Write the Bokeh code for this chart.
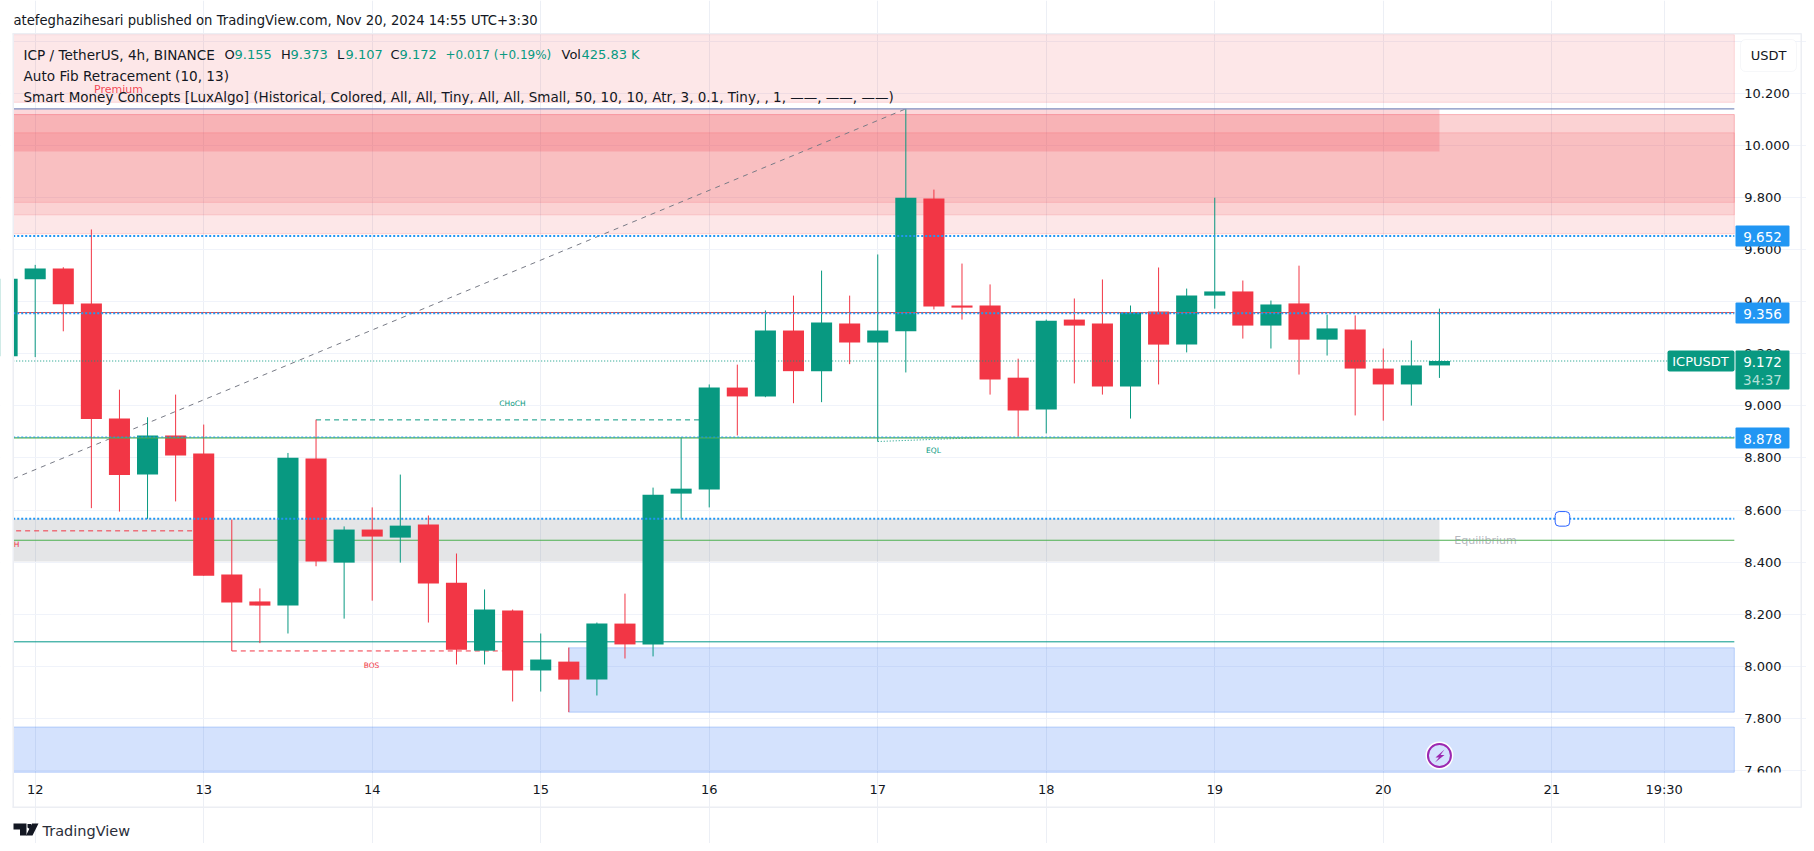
from bokeh.plotting import figure
from bokeh.embed import file_html
from bokeh.resources import INLINE
from bokeh.models import (ColumnDataSource, Range1d, LinearAxis, FixedTicker, Label, BoxAnnotation,
                          PolyAnnotation, NumeralTickFormatter)

# ---------- data ----------
candle_x = list(range(-1, 51))
opens = [9.190, 9.486, 9.527, 9.393, 8.951, 8.736, 8.886, 8.817, 8.352, 8.249, 8.233, 8.798, 8.398, 8.525, 8.494,
         8.544, 8.321, 8.060, 8.214, 7.984, 8.018, 7.949, 8.164, 8.084, 8.663, 8.679, 9.070, 9.036, 9.289, 9.133,
         9.316, 9.243, 9.286, 9.796, 9.385, 9.385, 9.108, 8.986, 9.331, 9.316, 9.074, 9.362, 9.235, 9.423, 9.439,
         9.308, 9.393, 9.254, 9.293, 9.143, 9.082, 9.155]
highs = [9.488, 9.541, 9.532, 9.677, 9.062, 8.956, 9.043, 8.928, 8.563, 8.299, 8.819, 8.947, 8.537, 8.610, 8.736,
         8.579, 8.433, 8.295, 8.218, 8.126, 8.072, 8.168, 8.279, 8.686, 8.878, 9.082, 9.158, 9.366, 9.423, 9.519,
         9.423, 9.581, 10.140, 9.830, 9.546, 9.466, 9.181, 9.331, 9.412, 9.485, 9.385, 9.531, 9.450, 9.799, 9.481,
         9.404, 9.538, 9.350, 9.347, 9.220, 9.251, 9.373]
lows = [9.190, 9.187, 9.286, 8.607, 8.594, 8.566, 8.633, 8.348, 8.059, 8.089, 8.126, 8.384, 8.183, 8.252, 8.398,
        8.168, 8.007, 8.007, 7.865, 7.903, 7.824, 7.888, 8.030, 8.038, 8.567, 8.610, 8.886, 9.033, 9.010, 9.014,
        9.160, 8.863, 9.128, 9.370, 9.331, 9.043, 8.882, 8.894, 9.086, 9.043, 8.951, 9.082, 9.205, 9.373, 9.258,
        9.220, 9.120, 9.193, 8.963, 8.943, 9.001, 9.107]
closes = [9.488, 9.527, 9.390, 8.949, 8.734, 8.886, 8.809, 8.348, 8.245, 8.233, 8.801, 8.402, 8.525, 8.498, 8.540,
          8.318, 8.064, 8.218, 7.984, 8.026, 7.949, 8.164, 8.084, 8.659, 8.682, 9.070, 9.036, 9.289, 9.133, 9.320,
          9.243, 9.289, 9.799, 9.381, 9.377, 9.101, 8.982, 9.327, 9.308, 9.074, 9.359, 9.235, 9.423, 9.439, 9.308,
          9.389, 9.254, 9.297, 9.143, 9.082, 9.155, 9.172]

price_ticks = [7.6, 7.8, 8.0, 8.2, 8.4, 8.6, 8.8, 9.0, 9.2, 9.4, 9.6, 9.8, 10.0, 10.2]
grid_prices = price_ticks + [10.4]
time_ticks = [0, 6, 12, 18, 24, 30, 36, 42, 48, 54, 58]
time_labels = ["12", "13", "14", "15", "16", "17", "18", "19", "20", "21", "19:30"]

supply_bottoms = [10.165, 9.660, 9.733, 9.781]
supply_tops = [10.425, 10.118, 10.118, 10.048]
premium_zone = [9.976, 10.140]
equilibrium_zone = [8.402, 8.566]
zone_end = 50
demand_bottoms = [7.824, 7.5935]
demand_tops = [8.071, 7.767]
demand_starts = [19, -0.783]

level_high = 10.140
level_green = 8.877
level_red = 9.358
level_mid = 8.484
level_teal = 8.094
dotted_levels = [9.652, 9.355, 8.880, 8.566]
last_price = 9.172

fib_x = [-0.783, 31]
fib_y = [8.72, 10.14]
choch_x, choch_y = [10, 24], [8.946, 8.946]
bos_x, bos_y = [7, 17], [8.059, 8.059]
eqh_x, eqh_y = [-1, 6], [8.520, 8.520]
eql_x, eql_y = [30, 33.7], [8.863, 8.878]

GREEN, RED, BLUE = "#089981", "#f23645", "#2196f3"
FONT = "DejaVu Sans"
INK = "#131722"

# ---------- geometry: the frame fills the figure, the pane is a part of it ----------
W, H = 1806, 843
PX0, PX1, PY0, PY1 = -0.783, 60.5, 7.5935, 10.425

p = figure(width=W, height=H, output_backend="svg", toolbar_location=None,
           x_range=Range1d(-1.2355, 63.07), y_range=Range1d(7.3198, 10.5559),
           x_axis_location=None, y_axis_location=None,
           min_border_left=0, min_border_right=0, min_border_top=0, min_border_bottom=0,
           background_fill_color="white", border_fill_color="white", outline_line_color=None)

yaxis = LinearAxis(ticker=FixedTicker(ticks=price_ticks), formatter=NumeralTickFormatter(format="0.000"),
                   fixed_location=PX1, axis_line_color=None, major_tick_line_color=None,
                   minor_tick_line_color=None, major_label_text_font=FONT, major_label_text_font_size="13px",
                   major_label_text_color=INK, major_label_standoff=4)
xaxis = LinearAxis(ticker=FixedTicker(ticks=time_ticks), major_label_overrides=dict(zip(time_ticks, time_labels)),
                   fixed_location=PY0, axis_line_color=None, major_tick_line_color=None,
                   minor_tick_line_color=None, major_label_text_font=FONT, major_label_text_font_size="13px",
                   major_label_text_color=INK, major_label_standoff=4)
p.add_layout(yaxis, "right")
p.add_layout(xaxis, "below")
p.xgrid.ticker = FixedTicker(ticks=time_ticks)
p.ygrid.ticker = FixedTicker(ticks=grid_prices)
p.xgrid.bounds = (PY0, PY1)
p.ygrid.bounds = (PX0, PX1)
p.xgrid.grid_line_color = "#eceff5"
p.ygrid.grid_line_color = "#f0f3fa"

# zones
p.quad(left=PX0, right=PX1, bottom=supply_bottoms, top=supply_tops, fill_color=RED, fill_alpha=0.12,
       line_color=RED, line_alpha=0.16)
p.quad(left=[PX0], right=[zone_end], bottom=[premium_zone[0]], top=[premium_zone[1]], fill_color=RED,
       fill_alpha=0.2, line_color=None)
p.quad(left=[PX0], right=[zone_end], bottom=[equilibrium_zone[0]], top=[equilibrium_zone[1]],
       fill_color="#787b86", fill_alpha=0.2, line_color=None)
p.quad(left=demand_starts, right=PX1, bottom=demand_bottoms, top=demand_tops, fill_color="#1d66f4",
       fill_alpha=0.19, line_color="#1d66f4", line_alpha=0.25)

# structure lines behind the candles
p.segment(x0=PX0, x1=PX1, y0=level_mid, y1=level_mid, line_color="#4caf50", line_width=1.2)
p.segment(x0=PX0, x1=PX1, y0=level_teal, y1=level_teal, line_color="#009688", line_width=1)
p.line(fib_x, fib_y, line_color="#787b86", line_width=1, line_dash="5 5")
p.line(choch_x, choch_y, line_color=GREEN, line_width=1, line_dash="5 4")
p.line(bos_x, bos_y, line_color=RED, line_width=1, line_dash="5 4")
p.line(eqh_x, eqh_y, line_color=RED, line_width=1, line_dash="5 4")
p.line(eql_x, eql_y, line_color=GREEN, line_width=1, line_dash="1 2")

# candles
colors = [GREEN if c >= o else RED for o, c in zip(opens, closes)]
src = ColumnDataSource(dict(x=candle_x, o=opens, h=highs, l=lows, c=closes, color=colors,
                            top=[max(a, b) for a, b in zip(opens, closes)],
                            bot=[min(a, b) for a, b in zip(opens, closes)]))
p.segment(x0="x", x1="x", y0="l", y1="h", line_color="color", line_width=1, source=src)
p.vbar(x="x", width=0.75, top="top", bottom="bot", fill_color="color", line_color="color", line_width=0, source=src)

# levels above the candles
p.segment(x0=-0.65, x1=PX1, y0=level_red, y1=level_red, line_color="#f44336", line_width=1)
p.segment(x0=PX0, x1=PX1, y0=level_green, y1=level_green, line_color="#4caf50", line_width=1.2)
for lv in dotted_levels:
    p.segment(x0=PX0, x1=PX1, y0=lv, y1=lv, line_color=BLUE, line_width=2 if lv != dotted_levels[2] else 1,
              line_dash="2 2")
p.segment(x0=PX0, x1=PX1, y0=level_high, y1=level_high, line_color="#7f8fc0", line_width=1.2)
p.segment(x0=PX0, x1=PX1, y0=last_price, y1=last_price, line_color=GREEN, line_width=1, line_dash="1 2")

# drawing handle and event marker
p.quad(left=[54.12], right=[54.64], bottom=[8.538], top=[8.594], fill_color="white", line_color="#2962ff",
       line_width=1, border_radius=4)
p.scatter([50], [7.6576], marker="circle", size=28, fill_color="white", line_color=None)
p.scatter([50], [7.6576], marker="circle", size=23, fill_color="#d4e1fe", line_color="#9c27b0", line_width=2)


def sx(px):
    return px


def sy(py):
    return H - py


def text(txt, px, py, color=INK, size="14px", align="left", baseline="middle", style="normal", font=FONT, alpha=1):
    p.add_layout(Label(x=sx(px), y=sy(py), x_units="screen", y_units="screen", text=txt, text_color=color,
                       text_font=font, text_font_size=size, text_align=align, text_baseline=baseline,
                       text_font_style=style, text_alpha=alpha))


def box(x0, x1, y0, y1, color, line=None, radius=0):
    p.add_layout(BoxAnnotation(left=sx(x0), right=sx(x1), top=sy(y0), bottom=sy(y1), left_units="screen",
                               right_units="screen", top_units="screen", bottom_units="screen", fill_color=color,
                               fill_alpha=1, line_color=line, line_width=1, border_radius=radius, editable=False))


def poly(points, color):
    p.add_layout(PolyAnnotation(xs=[sx(a) for a, _ in points], ys=[sy(b) for _, b in points], xs_units="screen",
                                ys_units="screen", fill_color=color, fill_alpha=1, line_color=None))


# masks: left of the pane, the cut 7.600 label below it; then the outer border
box(0, 12.5, 30, 810, "white")
box(1735, 1800, 772, 806, "white")
for a in [(12, 13.5, 33, 807), (12, 1801, 32.5, 34), (1800, 1801.5, 33, 807), (12, 1801, 806, 807.5)]:
    box(a[0], a[1], a[2], a[3], "#eceef3")

# chart texts
text("Premium", 118, 89, RED, "11px", "center", alpha=0.9)
text("Equilibrium", 1485, 540, "#9598a1", "11px", "center", alpha=0.7)
text("CHoCH", 512, 403, GREEN, "7.5px", "center")
text("BOS", 371, 665, RED, "7.5px", "center")
text("EQL", 933, 450, GREEN, "7.5px", "center")
text("H", 16, 544, RED, "7.5px", "center")

# header and legend
text("atefeghazihesari published on TradingView.com, Nov 20, 2024 14:55 UTC+3:30", 13, 20, size="13.2px")
text("ICP / TetherUS, 4h, BINANCE", 23, 54, size="13.6px")
for s, x, c, z in [("O", 224, INK, "13px"), ("9.155", 234, GREEN, "13px"), ("H", 280.5, INK, "13px"),
                   ("9.373", 290, GREEN, "13px"), ("L", 336.6, INK, "13px"), ("9.107", 345, GREEN, "13px"),
                   ("C", 390, INK, "13px"), ("9.172", 399, GREEN, "13px"),
                   ("+0.017 (+0.19%)", 445, GREEN, "12px"), ("Vol", 561, INK, "13px"),
                   ("425.83 K", 581, GREEN, "13px")]:
    text(s, x, 54, c, size=z)
text("Auto Fib Retracement (10, 13)", 23, 75, size="13.6px")
text("Smart Money Concepts [LuxAlgo] (Historical, Colored, All, All, Tiny, All, All, Small, 50, 10, 10, Atr, 3, 0.1, Tiny, , 1, \u2014\u2014, \u2014\u2014, \u2014\u2014)", 23, 96, size="13.5px")

# price tags
box(1735, 1789, 225, 246, BLUE, radius=1)
text("9.652", 1762, 236, "white", "13.5px", "center")
box(1735, 1789, 302, 323, BLUE, radius=1)
text("9.356", 1762, 313, "white", "13.5px", "center")
box(1735, 1789, 427, 448, BLUE, radius=1)
text("8.878", 1762, 438, "white", "13.5px", "center")
box(1667, 1734, 350, 371, GREEN, radius=2)
text("ICPUSDT", 1700, 361, "white", "13px", "center")
box(1735, 1789, 350, 389, GREEN, radius=1)
text("9.172", 1762, 361, "white", "13.5px", "center")
text("34:37", 1762, 379, "#b5e0d8", "13.5px", "center")
box(1740, 1796, 39, 71, "white", line="#e0e3eb", radius=5)
text("USDT", 1768, 55, INK, "13px", "center")

# event bolt
poly([(1444, 749), (1435, 757), (1438.5, 757), (1434.5, 762), (1444, 754.5), (1440, 754.5)], "#9c27b0")

# TradingView logo
poly([(13, 823), (26, 823), (26, 835), (19.5, 835), (19.5, 829), (13, 829)], "#131722")
poly([(27, 823.5), (30.5, 823.5), (31, 826), (29, 828.5), (27, 827)], "#131722")
poly([(31.5, 823), (38, 823), (32, 835), (25.5, 835)], "#131722")
text("TradingView", 42, 830, "#2a2e39", "14.5px")

open("out.html", "w").write(file_html(p, INLINE))
